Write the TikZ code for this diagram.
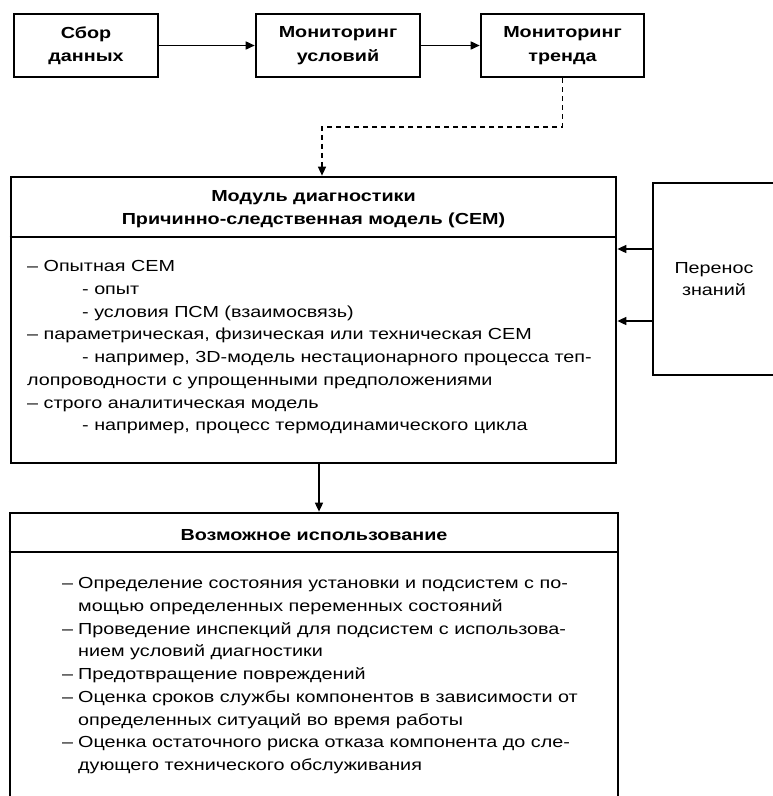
\documentclass[tikz,border=0pt]{standalone}
\usepackage{fontspec}
\setmainfont{Liberation Sans}[FakeStretch=1.235]
\usetikzlibrary{arrows.meta,calc}
\newcommand{\dashitem}{\makebox[16pt][l]{–}}
\newcommand{\contitem}{\hspace*{16pt}}
\newcommand{\subind}{\hspace*{55pt}}
\begin{document}
\begin{tikzpicture}[x=1pt,y=-1pt,
  txt/.style={font=\fontsize{16}{22.7}\selectfont,inner sep=0pt},
  bold/.style={font=\fontsize{16}{23.5}\selectfont\bfseries,inner sep=0pt},
  topbox/.style={draw,line width=2.6pt,minimum height=63pt,align=center,bold},
  bigbox/.style={draw,line width=2.7pt,inner sep=0pt},
  sepline/.style={line width=1.5pt},
  arr/.style={line width=1.6pt,-{Triangle[length=9pt,width=8pt]}},
  darr/.style={line width=1.4pt,dash pattern=on 5pt off 4pt,-{Triangle[length=9pt,width=8pt]}}
]
\useasboundingbox (0,0) rectangle (773,796);

% top row
\node[topbox,minimum width=144pt] (b1) at (86,45.5) {Сбор\\данных};
\node[topbox,minimum width=164pt] (b2) at (338,45.5) {Мониторинг\\условий};
\node[topbox,minimum width=163pt] (b3) at (562.5,45.5) {Мониторинг\\тренда};
\draw[arr] (b1) -- (b2);
\draw[arr] (b2) -- (b3);

% diagnostics module
\node[bigbox,minimum width=605pt,minimum height=286pt] (main) at (313.5,320) {};
\coordinate (s1) at (0,237);
\draw[sepline] (main.west |- s1) -- (main.east |- s1);
\node[bold,align=center] (mhead) at (313.5,209) {Модуль диагностики\\Причинно-следственная модель (СЕМ)};
\node[txt,align=left,anchor=north west] (mbody) at (27,260.5) {%
– Опытная СЕМ\\
\subind- опыт\\
\subind- условия ПСМ (взаимосвязь)\\
– параметрическая, физическая или техническая СЕМ\\
\subind- например, 3D-модель нестационарного процесса теп-\\
лопроводности с упрощенными предположениями\\
– строго аналитическая модель\\
\subind- например, процесс термодинамического цикла};

% dashed connector
\coordinate (d1) at (563,127);
\coordinate (d2) at (322,127);
\draw[darr] (b3.south) -- (b3.south |- d1) -- (d2) -- (d2 |- main.north);

% knowledge transfer
\node[draw,line width=2.2pt,minimum width=122pt,minimum height=192pt,align=center,txt] (kt) at (714,279) {Перенос\\знаний};
\coordinate (k1) at (0,249);
\coordinate (k2) at (0,321);
\draw[arr] (kt.west |- k1) -- (main.east |- k1);
\draw[arr] (kt.west |- k2) -- (main.east |- k2);

% possible use
\node[bigbox,minimum width=608pt,minimum height=317pt] (use) at (314,671.5) {};
\coordinate (s2) at (0,552);
\draw[sepline] (use.west |- s2) -- (use.east |- s2);
\node[bold] (uhead) at (314,535) {Возможное использование};
\node[txt,align=left,anchor=north west] (ubody) at (62,577.5) {%
\dashitem Определение состояния установки и подсистем с по-\\
\contitem мощью определенных переменных состояний\\
\dashitem Проведение инспекций для подсистем с использова-\\
\contitem нием условий диагностики\\
\dashitem Предотвращение повреждений\\
\dashitem Оценка сроков службы компонентов в зависимости от\\
\contitem определенных ситуаций во время работы\\
\dashitem Оценка остаточного риска отказа компонента до сле-\\
\contitem дующего технического обслуживания};

\coordinate (a1) at (319,0);
\draw[arr] (a1 |- main.south) -- (a1 |- use.north);
\end{tikzpicture}
\end{document}
